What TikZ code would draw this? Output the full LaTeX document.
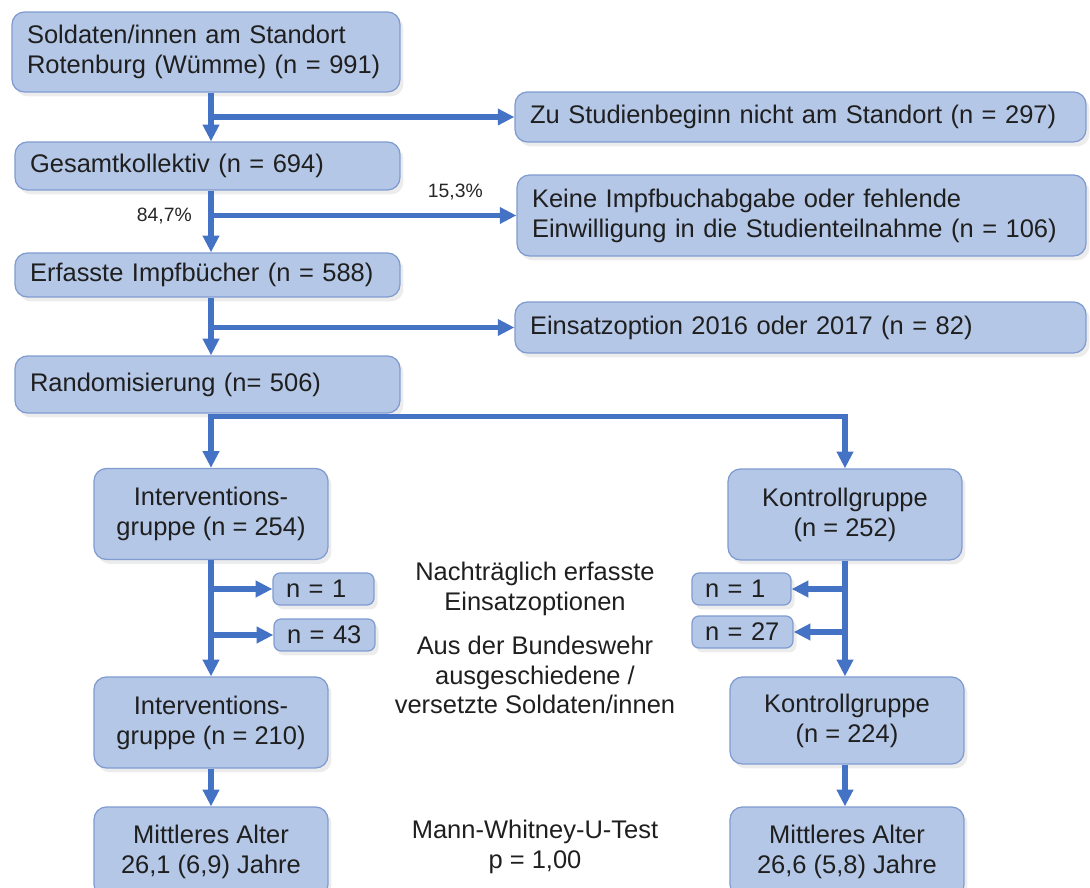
\documentclass[tikz,border=0pt]{standalone}
\usepackage{fontspec}
\setmainfont{Liberation Sans}
\usetikzlibrary{arrows.meta,shadows}
\definecolor{boxfill}{HTML}{B4C7E7}
\definecolor{boxline}{HTML}{7F9BD0}
\definecolor{flowblue}{HTML}{4472C4}
\begin{document}
\begin{tikzpicture}[
    x=0.02cm, y=-0.02cm,
    box/.style={draw=boxline, line width=0.7pt, fill=boxfill, rounded corners=7pt, inner ysep=0pt, text=black!88,
        font=\fontsize{14.5}{17}\selectfont, drop shadow={shadow xshift=2pt, shadow yshift=-2.5pt, opacity=0.15}},
    listbox/.style={box, align=left, inner xsep=0.3cm, text width=#1},
    groupbox/.style={box, align=center, minimum width=4.68cm, minimum height=1.82cm},
    countbox/.style={box, rounded corners=4pt, align=left, inner xsep=0.26cm, text width=1.5cm, minimum height=0.64cm},
    note/.style={align=center, text=black!88, font=\fontsize{14.5}{17}\selectfont},
    pct/.style={text=black!85, font=\fontsize{11}{13}\selectfont},
    arrow/.style={-{Triangle[width=9pt,length=9.5pt]}, line width=3.2pt, draw=flowblue}
]
    \clip (0,0) rectangle (1090,888);

    \coordinate (colA) at (211,0);
    \coordinate (colB) at (845,0);

    \node[listbox=7.16cm, minimum height=1.6cm] (soldaten) at (206,52) {Soldaten/innen am Standort\\Rotenburg (Wümme) (n = 991)};
    \node[listbox=7.1cm, minimum height=0.96cm] (gesamt) at (207.5,166) {Gesamtkollektiv (n = 694)};
    \node[listbox=7.1cm, minimum height=0.88cm] (erfasst) at (207.5,275) {Erfasste Impfbücher (n = 588)};
    \node[listbox=7.1cm, minimum height=1.14cm] (random) at (207.5,384.5) {Randomisierung (n= 506)};
    \node[listbox=10.82cm, minimum height=1.0cm] (abwesend) at (800.5,117) {Zu Studienbeginn nicht am Standort (n = 297)};
    \node[listbox=10.78cm, minimum height=1.62cm] (keinimpf) at (801.5,215.5) {Keine Impfbuchabgabe oder fehlende\\Einwilligung in die Studienteilnahme (n = 106)};
    \node[listbox=10.82cm, minimum height=1.02cm] (einsatz) at (800.5,327.5) {Einsatzoption 2016 oder 2017 (n = 82)};

    \node[groupbox] (intA) at (211,514) {Interventions-\\gruppe (n = 254)};
    \node[groupbox] (kontrA) at (845,514.5) {Kontrollgruppe\\(n = 252)};
    \node[countbox] (intOutA) at (323.5,589) {n = 1};
    \node[countbox] (intOutB) at (324.5,635) {n = 43};
    \node[countbox, text width=1.46cm] (kontrOutA) at (741.5,589) {n = 1};
    \node[countbox] (kontrOutB) at (742.5,632) {n = 27};
    \node[groupbox] (intB) at (211,722.5) {Interventions-\\gruppe (n = 210)};
    \node[groupbox, minimum height=1.74cm] (kontrB) at (847,720.5) {Kontrollgruppe\\(n = 224)};
    \node[groupbox, minimum height=1.8cm] (alterA) at (211,852) {Mittleres Alter\\26,1 (6,9) Jahre};
    \node[groupbox, minimum height=1.8cm] (alterB) at (847,852) {Mittleres Alter\\26,6 (5,8) Jahre};

    \node[note] (nachtr) at (535,589) {Nachträglich erfasste\\Einsatzoptionen};
    \node[note] (austritt) at (535,675) {Aus der Bundeswehr\\ausgeschiedene /\\versetzte Soldaten/innen};
    \node[note] (mwu) at (535,847) {Mann-Whitney-U-Test\\p = 1,00};

    \coordinate (split) at ([yshift=-1.6pt]random.south -| colA);

    \draw[arrow] (soldaten.south -| colA) -- (gesamt.north -| colA);
    \draw[arrow] (colA |- abwesend) -- (abwesend.west);
    \draw[arrow] (gesamt.south -| colA) -- (erfasst.north -| colA);
    \draw[arrow] (colA |- keinimpf) -- (keinimpf.west)
        node[pct, pos=0, left=6pt] {84,7\%}
        node[pct, pos=0.8, above=4pt] {15,3\%};
    \draw[arrow] (erfasst.south -| colA) -- (random.north -| colA);
    \draw[arrow] (colA |- einsatz) -- (einsatz.west);
    \draw[arrow] (random.south -| colA) -- (intA.north);
    \draw[arrow] ([xshift=-1.6pt]split) -| (kontrA.north);

    \draw[arrow] (intA.south) -- (intB.north);
    \draw[arrow] (colA |- intOutA) -- (intOutA.west);
    \draw[arrow] (colA |- intOutB) -- (intOutB.west);
    \draw[arrow] (intB.south) -- (alterA.north);
    \draw[arrow] (kontrA.south) -- (colB |- kontrB.north);
    \draw[arrow] (colB |- kontrOutA) -- (kontrOutA.east);
    \draw[arrow] (colB |- kontrOutB) -- (kontrOutB.east);
    \draw[arrow] (colB |- kontrB.south) -- (colB |- alterB.north);
\end{tikzpicture}
\end{document}
